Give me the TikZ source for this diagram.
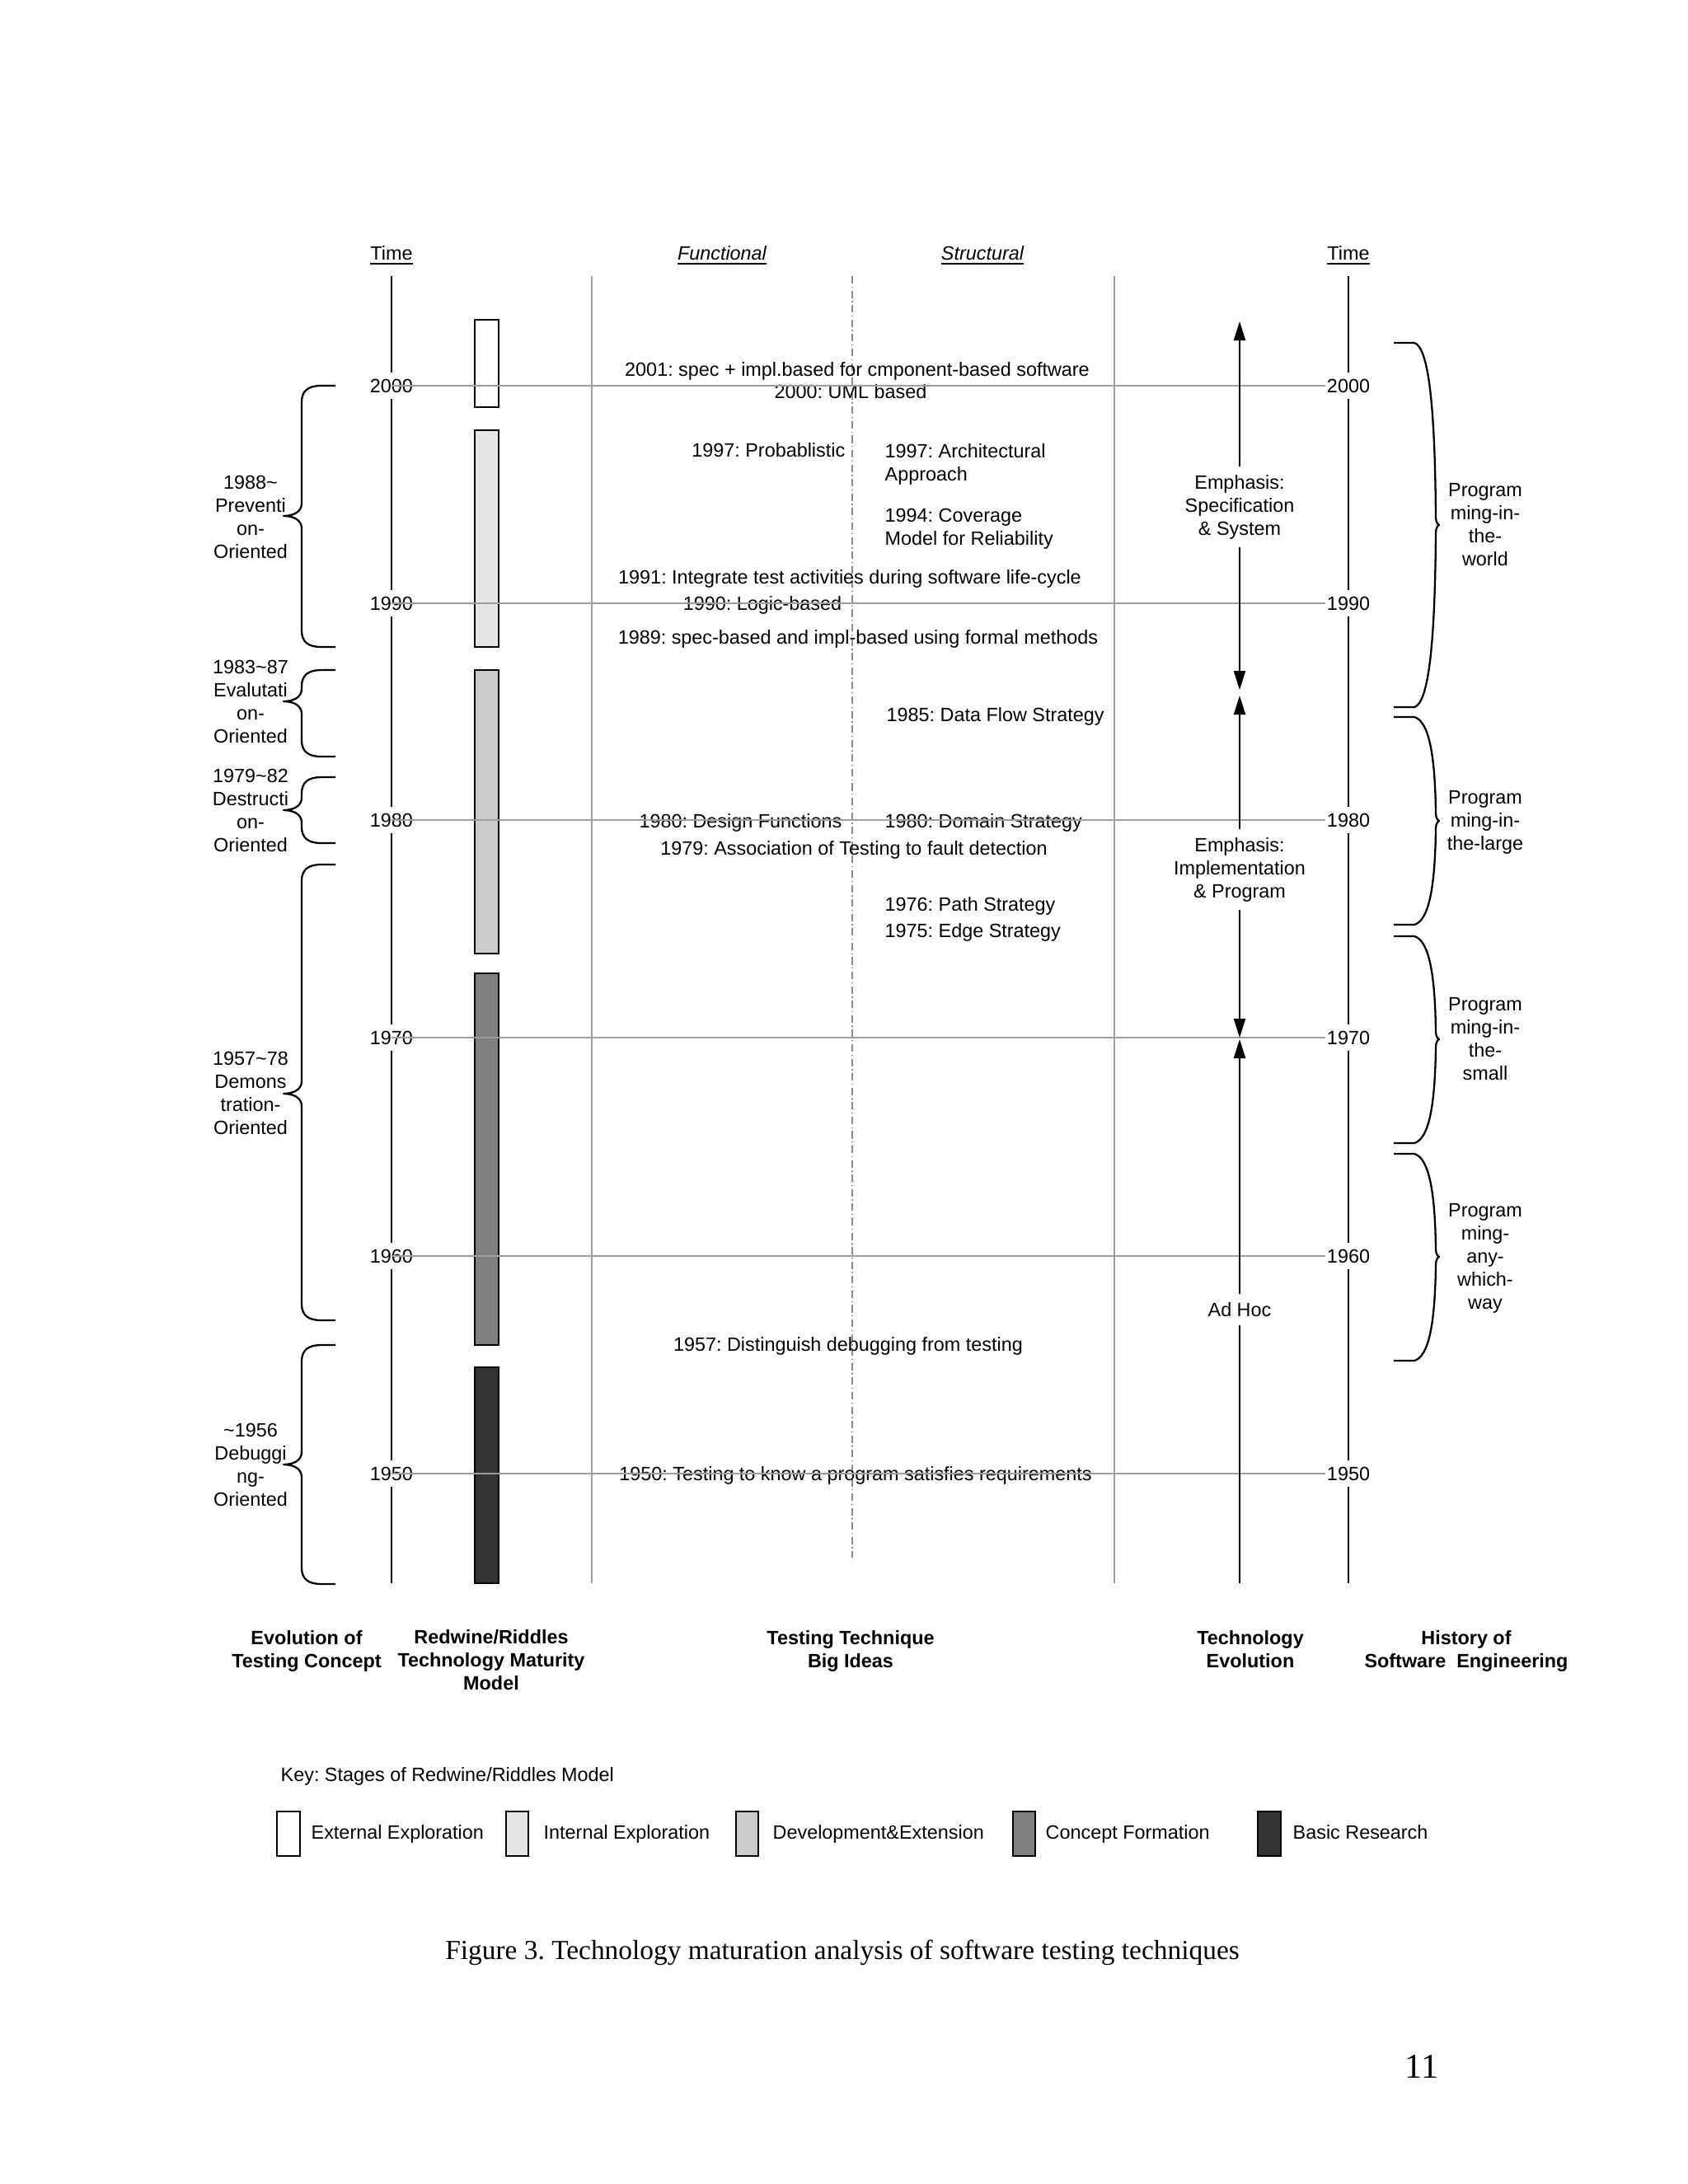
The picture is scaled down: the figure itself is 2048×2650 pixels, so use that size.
\documentclass[tikz,border=0pt]{standalone}
\usepackage{fontspec}
\setmainfont{Liberation Sans}
\newfontfamily\capfont{Liberation Serif}
\usetikzlibrary{arrows.meta}
\frenchspacing

\newcommand{\LeftBr}[3]{%
  \draw[brc] (407,#1) -- (390,#1) .. controls (374,#1) and (366,{#1+6}) .. (366,{#1+20})
    -- (366,{#2-15}) .. controls (366,{#2-5}) and (356,#2) .. (344,#2)
    .. controls (356,#2) and (366,{#2+5}) .. (366,{#2+15})
    -- (366,{#3-20}) .. controls (366,{#3-6}) and (374,#3) .. (390,#3) -- (407,#3);}
\newcommand{\RightBr}[3]{%
  \draw[brc] (1691,#1) -- (1716,#1) .. controls (1732,{#1+5}) and (1741,{#1+0.3*(#2-#1)}) .. (1742,{#2-10})
    .. controls (1742,{#2-4}) and (1744,{#2-1}) .. (1746,#2)
    .. controls (1744,{#2+1}) and (1742,{#2+4}) .. (1742,{#2+10})
    .. controls (1741,{#3-0.3*(#3-#2)}) and (1732,{#3-5}) .. (1716,#3) -- (1691,#3);}

\begin{document}
\begin{tikzpicture}[x=0.01cm,y=-0.01cm,
  txt/.style={font=\fontsize{6.65pt}{7.97pt}\selectfont, inner sep=0pt},
  mtxt/.style={txt, align=center},
  hdr/.style={font=\fontsize{6.65pt}{7.97pt}\selectfont\bfseries, inner sep=0pt, align=center},
  yrlbl/.style={txt, fill=white, inner xsep=0.015cm, inner ysep=0.08cm},
  axisline/.style={line width=0.65pt, black},
  gridline/.style={line width=0.55pt, black!38},
  centreline/.style={line width=0.5pt, black!45, dash pattern=on 2.6pt off 1pt on 0.4pt off 1pt},
  bar/.style={draw=black, line width=0.65pt},
  brc/.style={line width=0.65pt, black, line join=round},
  evo/.style={line width=0.65pt, black},
  dbl/.style={arrows={Triangle[width=0.14cm,length=0.23cm]-Triangle[width=0.14cm,length=0.23cm]}},
  upar/.style={arrows={Triangle[width=0.14cm,length=0.23cm]-}},
  evolbl/.style={mtxt, fill=white, inner xsep=0.02cm, inner ysep=0.1cm},
]
\fill[white] (0,0) rectangle (2048,2650);
\useasboundingbox (0,0) rectangle (2048,2650);

% column headers
\node[txt, anchor=base] (hTimeL) at (475,315) {\underline{Time}};
\node[txt, anchor=base] (hFunc) at (876,315) {\textit{\underline{Functional}}};
\node[txt, anchor=base] (hStruct) at (1192,315) {\textit{\underline{Structural}}};
\node[txt, anchor=base] (hTimeR) at (1636,315) {\underline{Time}};

% vertical lines
\coordinate (gl1t) at (718,335); \coordinate (gl1b) at (718,1921);
\coordinate (gl2t) at (1352,335); \coordinate (gl2b) at (1352,1921);
\coordinate (clt) at (1034,335); \coordinate (clb) at (1034,1890);
\coordinate (axLt) at (475,335); \coordinate (axLb) at (475,1921);
\coordinate (axRt) at (1636,335); \coordinate (axRb) at (1636,1921);
\draw[gridline] (gl1t) -- (gl1b);
\draw[gridline] (gl2t) -- (gl2b);
\draw[centreline] (clt) -- (clb);
\draw[axisline] (axLt) -- (axLb);
\draw[axisline] (axRt) -- (axRb);

% maturity bars
\draw[bar, fill=white] (576,388) rectangle (605,494);
\draw[bar, fill=black!10] (576,522) rectangle (605,785);
\draw[bar, fill=black!20] (576,813) rectangle (605,1157);
\draw[bar, fill=black!50] (576,1181) rectangle (605,1632);
\draw[bar, fill=black!80] (576,1659) rectangle (605,1921);

% testing technique big ideas
\node[txt, anchor=base] (t2001) at (1040,456) {2001: spec + impl.based for cmponent-based software};
\node[txt, anchor=base] (t2000) at (1032,483) {2000: UML based};
\node[txt, anchor=base east] (t1997p) at (1026,554) {1997: Probablistic};
\node[txt, align=left, anchor=north west] (t1997a) at (1073,537.6) {1997: Architectural\\Approach};
\node[txt, align=left, anchor=north west] (t1994) at (1073,616.6) {1994: Coverage\\Model for Reliability};
\node[txt, anchor=base] (t1991) at (1031,708) {1991: Integrate test activities during software life-cycle};
\node[txt, anchor=base] (t1990) at (925,740) {1990: Logic-based};
\node[txt, anchor=base] (t1989) at (1041,781) {1989: spec-based and impl-based using formal methods};
\node[txt, anchor=base west] (t1985) at (1075,875) {1985: Data Flow Strategy};
\node[txt, anchor=base east] (t1980d) at (1022,1004) {1980: Design Functions};
\node[txt, anchor=base west] (t1980s) at (1073,1004) {1980: Domain Strategy};
\node[txt, anchor=base] (t1979) at (1036,1037) {1979: Association of Testing to fault detection};
\node[txt, anchor=base west] (t1976) at (1073,1105) {1976: Path Strategy};
\node[txt, anchor=base west] (t1975) at (1073,1137) {1975: Edge Strategy};
\node[txt, anchor=base] (t1957) at (1029,1639) {1957: Distinguish debugging from testing};
\node[txt, anchor=base] (t1950) at (1038,1796) {1950: Testing to know a program satisfies requirements};

% year labels and horizontal lines
\foreach \yr/\yy in {2000/468,1990/732,1980/995,1970/1259,1960/1524,1950/1788}{
  \node[yrlbl] (L\yr) at (475,\yy) {\yr};
  \node[yrlbl] (R\yr) at (1636,\yy) {\yr};
  \draw[gridline] (L\yr.center) -- (R\yr.west);
}

% technology evolution arrows
\coordinate (a1t) at (1504,390); \coordinate (a1b) at (1504,837);
\coordinate (a2t) at (1504,844); \coordinate (a2b) at (1504,1259);
\coordinate (a3t) at (1504,1261); \coordinate (a3b) at (1504,1921);
\draw[evo, dbl] (a1b) -- (a1t);
\draw[evo, dbl] (a2b) -- (a2t);
\draw[evo, upar] (a3t) -- (a3b);
\node[evolbl] (emp1) at (1504,615) {Emphasis:\\Specification\\\& System};
\node[evolbl] (emp2) at (1504,1055) {Emphasis:\\Implementation\\\& Program};
\node[evolbl] (adhoc) at (1504,1589) {Ad Hoc};

% evolution of testing concept braces
\LeftBr{468}{626}{785}
\LeftBr{813}{851}{918}
\LeftBr{943}{983}{1023}
\LeftBr{1049}{1327}{1602}
\LeftBr{1632}{1777}{1922}
\node[mtxt] (ec1) at (304,627) {1988\textasciitilde\\Preventi\\on-\\Oriented};
\node[mtxt] (ec2) at (304,851) {1983\textasciitilde 87\\Evalutati\\on-\\Oriented};
\node[mtxt] (ec3) at (304,983) {1979\textasciitilde 82\\Destructi\\on-\\Oriented};
\node[mtxt] (ec4) at (304,1326) {1957\textasciitilde 78\\Demons\\tration-\\Oriented};
\node[mtxt] (ec5) at (304,1777) {\textasciitilde 1956\\Debuggi\\ng-\\Oriented};

% history of software engineering braces
\RightBr{416}{637}{858}
\RightBr{870}{996}{1122}
\RightBr{1136}{1261}{1387}
\RightBr{1400}{1525}{1651}
\node[mtxt] (se1) at (1802,637) {Program\\ming-in-\\the-\\world};
\node[mtxt] (se2) at (1802,998) {Program\\ming-in-\\the-large};
\node[mtxt] (se3) at (1802,1261) {Program\\ming-in-\\the-\\small};
\node[mtxt] (se4) at (1802,1527) {Program\\ming-\\any-\\which-\\way};

% bottom headers
\node[hdr] (bh1) at (372,2003) {Evolution of\\Testing Concept};
\node[hdr] (bh2) at (596,2014) {Redwine/Riddles\\Technology Maturity\\Model};
\node[hdr] (bh3) at (1032,2003) {Testing Technique\\Big Ideas};
\node[hdr] (bh4) at (1517,2001) {Technology\\Evolution};
\node[hdr] (bh5) at (1779,2003) {History of\\Software\ \ Engineering};

% key
\node[txt, anchor=base west] (key) at (340,2161) {Key: Stages of Redwine/Riddles Model};
\draw[bar, fill=white] (336,2198) rectangle (364,2252);
\draw[bar, fill=black!10] (614,2198) rectangle (641,2252);
\draw[bar, fill=black!20] (893,2198) rectangle (920,2252);
\draw[bar, fill=black!50] (1229,2198) rectangle (1256,2252);
\draw[bar, fill=black!80] (1526,2198) rectangle (1554,2252);
\node[txt, anchor=base west] (k1) at (377,2231) {External Exploration};
\node[txt, anchor=base west] (k2) at (659,2231) {Internal Exploration};
\node[txt, anchor=base west] (k3) at (937,2231) {Development\&Extension};
\node[txt, anchor=base west] (k4) at (1268,2231) {Concept Formation};
\node[txt, anchor=base west] (k5) at (1568,2231) {Basic Research};

% caption and page number
\node[font=\capfont\fontsize{9.5pt}{11pt}\selectfont, inner sep=0pt, anchor=base] (cap) at (1022,2377) {Figure 3. Technology maturation analysis of software testing techniques};
\node[font=\capfont\fontsize{12pt}{14pt}\selectfont, inner sep=0pt, anchor=base] (pg) at (1725,2521) {11};
\end{tikzpicture}
\end{document}
